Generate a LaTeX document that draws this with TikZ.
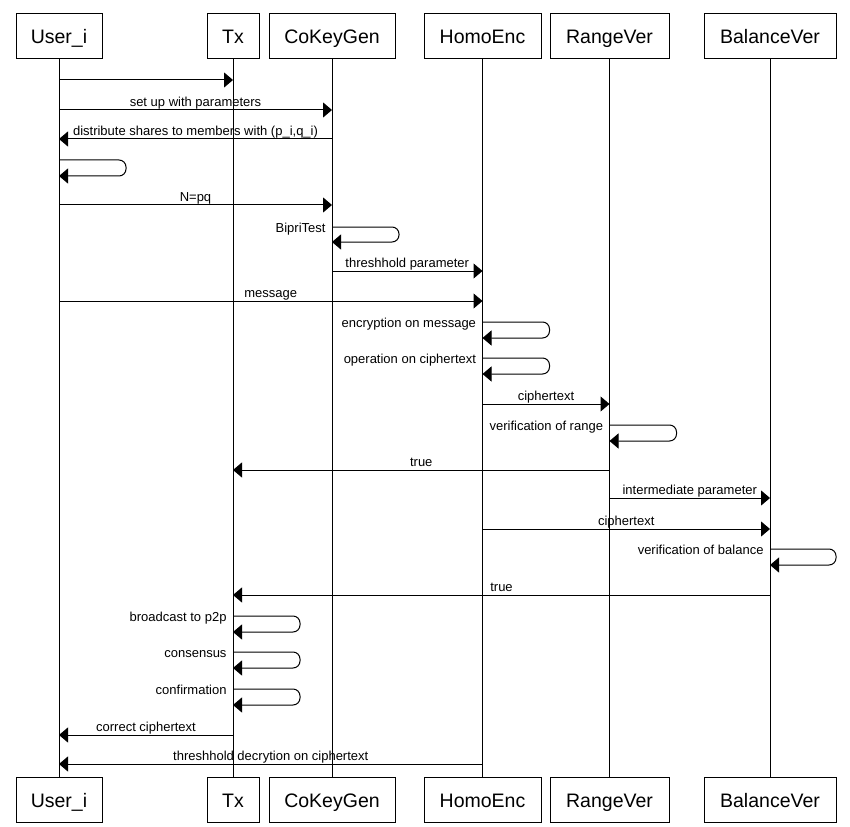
\documentclass[tikz,border=0pt]{standalone}
\usepackage{fontspec}
\setmainfont{Liberation Sans}
\usetikzlibrary{calc}
\usetikzlibrary{arrows.meta}
\tikzstyle{actorbox}=[draw=black, fill=white, line width=1pt, minimum height=45pt, inner sep=0pt, text height=15pt, text depth=0pt, font=\fontsize{19.5}{22}\selectfont]
\tikzstyle{lifeline}=[black, line width=1pt]
\tikzstyle{message}=[black, line width=1pt, -{Triangle[length=9pt, width=15pt]}]
\tikzstyle{selfmessage}=[message, rounded corners=7pt]
\tikzstyle{msglabel}=[above, inner sep=1pt, text height=9.5pt, text depth=2pt, font=\fontsize{13}{15}\selectfont]
\tikzstyle{selflabel}=[anchor=east, xshift=-5pt, yshift=-2pt, inner sep=1pt, text height=9.5pt, text depth=3pt, font=\fontsize{13}{15}\selectfont]

\begin{document}
\begin{tikzpicture}[x=1pt, y=-1pt]
    \useasboundingbox (0,0) rectangle (850,826);

    % Participants
    \node[actorbox, minimum width=86pt] at (59, 36.5) (userTop) {User\_i};
    \node[actorbox, minimum width=52pt] at (233, 36.5) (txTop) {Tx};
    \node[actorbox, minimum width=126pt] at (332, 36.5) (coKeyGenTop) {CoKeyGen};
    \node[actorbox, minimum width=117pt] at (482.5, 36.5) (homoEncTop) {HomoEnc};
    \node[actorbox, minimum width=119pt] at (609.5, 36.5) (rangeVerTop) {RangeVer};
    \node[actorbox, minimum width=132pt] at (770, 36.5) (balanceVerTop) {BalanceVer};

    \node[actorbox, minimum width=86pt] at ($(userTop) + (0, 763)$) (userBottom) {User\_i};
    \node[actorbox, minimum width=52pt] at ($(txTop) + (0, 763)$) (txBottom) {Tx};
    \node[actorbox, minimum width=126pt] at ($(coKeyGenTop) + (0, 763)$) (coKeyGenBottom) {CoKeyGen};
    \node[actorbox, minimum width=117pt] at ($(homoEncTop) + (0, 763)$) (homoEncBottom) {HomoEnc};
    \node[actorbox, minimum width=119pt] at ($(rangeVerTop) + (0, 763)$) (rangeVerBottom) {RangeVer};
    \node[actorbox, minimum width=132pt] at ($(balanceVerTop) + (0, 763)$) (balanceVerBottom) {BalanceVer};

    % Lifelines
    \draw[lifeline] (userTop.south) -- (userBottom.north);
    \draw[lifeline] (txTop.south) -- (txBottom.north);
    \draw[lifeline] (coKeyGenTop.south) -- (coKeyGenBottom.north);
    \draw[lifeline] (homoEncTop.south) -- (homoEncBottom.north);
    \draw[lifeline] (rangeVerTop.south) -- (rangeVerBottom.north);
    \draw[lifeline] (balanceVerTop.south) -- (balanceVerBottom.north);

    % Messages
    \draw[message] (userTop |- 0,80) -- (txTop |- 0,80);
    \draw[message] (userTop |- 0,110) -- node[msglabel] {set up with parameters} (coKeyGenTop |- 0,110);
    \draw[message] (coKeyGenTop |- 0,139) -- node[msglabel] {distribute shares to members with (p\_i,q\_i)} (userTop |- 0,139);
    \draw[selfmessage] (userTop |- 0,160) -- ++(67,0) -- ++(0,16) -- (userTop |- 0,176);
    \draw[message] (userTop |- 0,205) -- node[msglabel] {N=pq} (coKeyGenTop |- 0,205);
    \draw[selfmessage] (coKeyGenTop |- 0,227) node[selflabel] {BipriTest} -- ++(67,0) -- ++(0,15) -- (coKeyGenTop |- 0,242);
    \draw[message] (coKeyGenTop |- 0,271) -- node[msglabel] {threshhold parameter} (homoEncTop |- 0,271);
    \draw[message] (userTop |- 0,301) -- node[msglabel] {message} (homoEncTop |- 0,301);
    \draw[selfmessage] (homoEncTop |- 0,322) node[selflabel] {encryption on message} -- ++(67,0) -- ++(0,16) -- (homoEncTop |- 0,338);
    \draw[selfmessage] (homoEncTop |- 0,358) node[selflabel] {operation on ciphertext} -- ++(67,0) -- ++(0,16) -- (homoEncTop |- 0,374);
    \draw[message] (homoEncTop |- 0,404) -- node[msglabel] {ciphertext} (rangeVerTop |- 0,404);
    \draw[selfmessage] (rangeVerTop |- 0,425) node[selflabel] {verification of range} -- ++(67,0) -- ++(0,16) -- (rangeVerTop |- 0,441);
    \draw[message] (rangeVerTop |- 0,470) -- node[msglabel] {true} (txTop |- 0,470);
    \draw[message] (rangeVerTop |- 0,498) -- node[msglabel] {intermediate parameter} (balanceVerTop |- 0,498);
    \draw[message] (homoEncTop |- 0,529) -- node[msglabel] {ciphertext} (balanceVerTop |- 0,529);
    \draw[selfmessage] (balanceVerTop |- 0,549) node[selflabel] {verification of balance} -- ++(66,0) -- ++(0,16) -- (balanceVerTop |- 0,565);
    \draw[message] (balanceVerTop |- 0,595) -- node[msglabel] {true} (txTop |- 0,595);
    \draw[selfmessage] (txTop |- 0,616) node[selflabel] {broadcast to p2p} -- ++(67,0) -- ++(0,16) -- (txTop |- 0,632);
    \draw[selfmessage] (txTop |- 0,652) node[selflabel] {consensus} -- ++(67,0) -- ++(0,16) -- (txTop |- 0,668);
    \draw[selfmessage] (txTop |- 0,689) node[selflabel] {confirmation} -- ++(67,0) -- ++(0,16) -- (txTop |- 0,705);
    \draw[message] (txTop |- 0,735) -- node[msglabel] {correct ciphertext} (userTop |- 0,735);
    \draw[message] (homoEncTop |- 0,764) -- node[msglabel] {threshhold decrytion on ciphertext} (userTop |- 0,764);

\end{tikzpicture}
\end{document}
